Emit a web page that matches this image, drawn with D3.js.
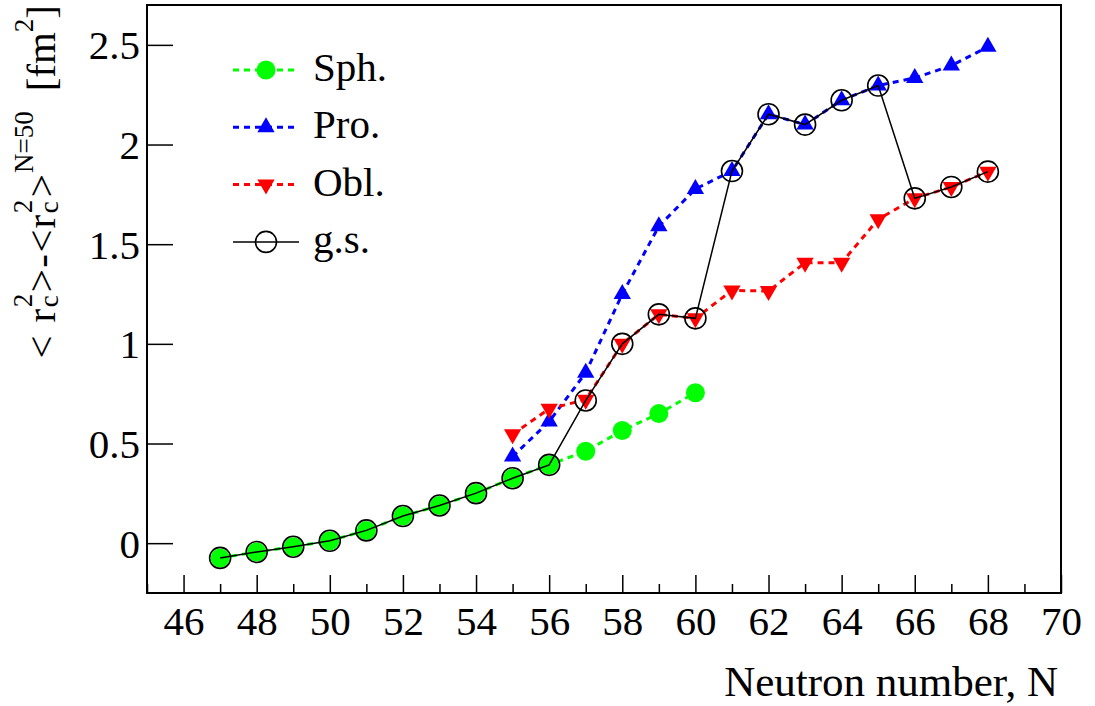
<!DOCTYPE html>
<html>
<head>
<meta charset="utf-8">
<script src="https://cdn.jsdelivr.net/npm/d3@7"></script>
<style>
  body { margin: 0; background: #fff; }
  svg text { font-family: "Liberation Serif", Tinos, "Times New Roman", Times, "Nimbus Roman", FreeSerif, "DejaVu Serif", serif; fill: #000; }
</style>
</head>
<body>
<svg id="chart" width="1095" height="706"></svg>
<script>
"use strict";

// neutron numbers
var sphN = [47, 48, 49, 50, 51, 52, 53, 54, 55, 56, 57, 58, 59, 60];
var defN = [55, 56, 57, 58, 59, 60, 61, 62, 63, 64, 65, 66, 67, 68];
var gsN = [47, 48, 49, 50, 51, 52, 53, 54, 55, 56, 57, 58, 59, 60, 61, 62, 63, 64, 65, 66, 67, 68];

// <r2>-<r2>(N=50), fm^2
var sphValues = [-0.074, -0.044, -0.018, 0.012, 0.064, 0.136, 0.189, 0.251, 0.326, 0.393, 0.461, 0.565, 0.65, 0.755];
var proValues = [0.435, 0.61, 0.855, 1.25, 1.59, 1.777, 1.867, 2.152, 2.1, 2.222, 2.296, 2.334, 2.396, 2.49];
var oblValues = [0.546, 0.674, 0.72, 1.0, 1.148, 1.128, 1.268, 1.265, 1.407, 1.407, 1.625, 1.73, 1.787, 1.864];
var gsValues = [-0.074, -0.044, -0.018, 0.012, 0.064, 0.136, 0.189, 0.251, 0.326, 0.393,
    0.716, 1.0, 1.148, 1.128, 1.867, 2.152, 2.1, 2.222, 2.296, 1.73, 1.787, 1.864];

var xTicks = [46, 48, 50, 52, 54, 56, 58, 60, 62, 64, 66, 68, 70];
var xMinorTicks = [45, 47, 49, 51, 53, 55, 57, 59, 61, 63, 65, 67, 69];
var yTicks = [0, 0.5, 1, 1.5, 2, 2.5];
var legendLabels = ["Sph.", "Pro.", "Obl.", "g.s."];

var svg = d3.select("#chart");
var frameL = 147, frameR = 1061, frameT = 5, frameB = 593;

var x = d3.scaleLinear().domain([45, 70]).range([frameL, frameR]);
var y = d3.scaleLinear().domain([-0.25, 2.7]).range([frameB, frameT]);

// x axis: major ticks at even N, minor at odd N
svg.append("g")
    .attr("transform", "translate(0," + frameB + ")")
    .call(d3.axisBottom(x).tickValues(xMinorTicks).tickSize(-9).tickFormat(""))
    .call(function (g) { g.select(".domain").remove(); })
    .selectAll("line").attr("stroke-width", 1.5);

var xAxis = svg.append("g")
    .attr("transform", "translate(0," + frameB + ")")
    .call(d3.axisBottom(x).tickValues(xTicks).tickSize(-18).tickPadding(13).tickFormat(d3.format("d")));
xAxis.attr("font-family", null);
xAxis.select(".domain").remove();
xAxis.selectAll("line").attr("stroke-width", 1.5);
xAxis.selectAll("text").attr("font-size", 41);

var yAxis = svg.append("g")
    .attr("transform", "translate(" + frameL + ",0)")
    .call(d3.axisLeft(y).tickValues(yTicks).tickSize(-26).tickPadding(7).tickFormat(d3.format("~g")));
yAxis.attr("font-family", null);
yAxis.select(".domain").remove();
yAxis.selectAll("line").attr("stroke-width", 1.5);
yAxis.selectAll("text")
    .attr("font-size", 41)
    .attr("dy", "0.34em");

// frame
svg.append("rect")
    .attr("x", frameL).attr("y", frameT)
    .attr("width", frameR - frameL).attr("height", frameB - frameT)
    .attr("fill", "none").attr("stroke", "#000").attr("stroke-width", 2);

function pairs(ns, vs) {
    return ns.map(function (n, i) { return [n, vs[i]]; });
}

var line = d3.line()
    .x(function (d) { return x(d[0]); })
    .y(function (d) { return y(d[1]); });

var triUp = d3.symbol(d3.symbolTriangle, 130)();

var series = [
    { data: pairs(sphN, sphValues), color: "#00ff00", dash: "6,5", width: 3, marker: "circle" },
    { data: pairs(defN, proValues), color: "#0000ff", dash: "6,5", width: 3, marker: "up" },
    { data: pairs(defN, oblValues), color: "#ff0000", dash: "6,5", width: 3, marker: "down" },
    { data: pairs(gsN, gsValues), color: "#000", dash: null, width: 1.5, marker: "open" }
];

function drawMarker(sel, s) {
    if (s.marker === "circle") {
        sel.append("circle").attr("r", 9.5).attr("fill", s.color);
    } else if (s.marker === "up") {
        sel.append("path").attr("d", triUp).attr("fill", s.color);
    } else if (s.marker === "down") {
        sel.append("path").attr("d", triUp).attr("transform", "rotate(180)").attr("fill", s.color);
    } else {
        sel.append("circle").attr("r", 10.5).attr("fill", "none")
            .attr("stroke", "#000").attr("stroke-width", 1.6);
    }
}

var plot = svg.append("g");
series.forEach(function (s) {
    plot.append("path")
        .datum(s.data)
        .attr("d", line)
        .attr("fill", "none")
        .attr("stroke", s.color)
        .attr("stroke-width", s.width)
        .attr("stroke-dasharray", s.dash);

    plot.selectAll(null)
        .data(s.data)
        .enter().append("g")
        .attr("transform", function (d) { return "translate(" + x(d[0]) + "," + y(d[1]) + ")"; })
        .each(function () { drawMarker(d3.select(this), s); });
});

// legend
var legend = svg.append("g");
legendLabels.forEach(function (label, i) {
    var s = series[i];
    var row = legend.append("g").attr("transform", "translate(233," + (70 + i * 57.3) + ")");
    row.append("line")
        .attr("x1", 0).attr("x2", 66)
        .attr("stroke", s.color)
        .attr("stroke-width", s.width)
        .attr("stroke-dasharray", s.dash);
    drawMarker(row.append("g").attr("transform", "translate(33,0)"), s);
    row.append("text")
        .attr("x", 80).attr("y", 11)
        .attr("font-size", 41)
        .text(label);
});

// x title
svg.append("text")
    .attr("x", 1058).attr("y", 696)
    .attr("text-anchor", "end")
    .attr("font-size", 43)
    .text("Neutron number, N");

// y title, laid out piece by piece (ROOT-like spacing) then rotated
var yTitle = svg.append("g");
var pieces = [
    { t: "<", s: 41, gap: 0 },
    { t: "r", s: 41, gap: 13 },
    { t: "c", s: 27, dy: 3, stack: "2", sdy: -23, gap: 1.5 },
    { t: ">", s: 41, gap: 1.5 },
    { t: "-", s: 41, gap: 1.5 },
    { t: "<", s: 41, gap: 1.5 },
    { t: "r", s: 41, gap: 1 },
    { t: "c", s: 27, dy: 3, stack: "2", sdy: -23, gap: 1.5 },
    { t: ">", s: 41, gap: 2.5 },
    { t: "N=50", s: 27, dy: -22, gap: 1 },
    { t: "[fm", s: 41, gap: 20 },
    { t: "2", s: 27, dy: -22, gap: 0 },
    { t: "]", s: 41, gap: 0 }
];
var cursor = 0;
pieces.forEach(function (p) {
    cursor += p.gap;
    var t = yTitle.append("text").attr("x", cursor).attr("y", p.dy || 0)
        .attr("font-size", p.s).text(p.t);
    var w = t.node().getComputedTextLength();
    if (p.stack) {
        var t2 = yTitle.append("text").attr("x", cursor).attr("y", p.sdy)
            .attr("font-size", p.s).text(p.stack);
        w = Math.max(w, t2.node().getComputedTextLength());
    }
    cursor += w;
});
yTitle.attr("transform", "translate(55," + (5 + cursor) + ") rotate(-90)");
</script>
</body>
</html>
